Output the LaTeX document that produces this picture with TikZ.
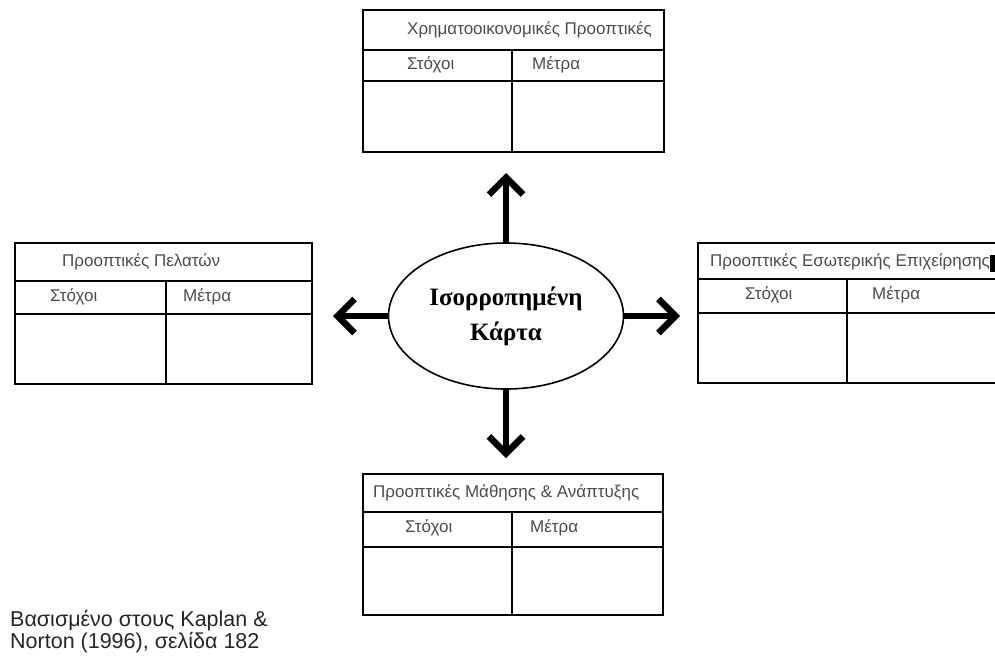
\documentclass[tikz,border=0pt]{standalone}
\usepackage{fontspec}
\setmainfont{Liberation Sans}
\newfontfamily\cardfont{Liberation Serif}
\usetikzlibrary{arrows.meta,shapes.geometric}

\begin{document}
\begin{tikzpicture}[x=1pt,y=-1pt,
  cell/.style={draw, line width=1.3pt},
  label/.style={anchor=west, inner sep=0pt, text=black!70, font=\fontsize{17}{19}\selectfont},
  bigarrow/.style={line width=6.5pt, -{Straight Barb[length=17pt,width=34pt]}}]
\clip (0,0) rectangle (995,657);
% Financial perspective (top)
\draw[cell] (363,10) rectangle (664,152);
\draw[cell] (363,50) -- (664,50);
\draw[cell] (363,81) -- (664,81);
\draw[cell] (512,50) -- (512,152);
\node[label] (finHead) at (407,30) {Χρηματοοικονομικές Προοπτικές};
\node[label] (finGoal) at (407,65) {Στόχοι};
\node[label] (finMeas) at (532,65) {Μέτρα};
% Customer perspective (left)
\draw[cell] (15,243) rectangle (312,384);
\draw[cell] (15,281) -- (312,281);
\draw[cell] (15,314) -- (312,314);
\draw[cell] (166,281) -- (166,384);
\node[label] (cusHead) at (62,262) {Προοπτικές Πελατών};
\node[label] (cusGoal) at (50,297) {Στόχοι};
\node[label] (cusMeas) at (183,297) {Μέτρα};
% Internal business perspective (right)
\draw[cell] (698,243) rectangle (1010,383);
\draw[cell] (698,279) -- (1010,279);
\draw[cell] (698,313) -- (1010,313);
\draw[cell] (847,279) -- (847,383);
\node[label] (intHead) at (710,262) {Προοπτικές Εσωτερικής Επιχείρησης};
\node[label] (intGoal) at (745,295) {Στόχοι};
\node[label] (intMeas) at (872,295) {Μέτρα};
\fill (990,255) rectangle (995,272);
% Learning and growth perspective (bottom)
\draw[cell] (363,474) rectangle (663,615);
\draw[cell] (363,512) -- (663,512);
\draw[cell] (363,547) -- (663,547);
\draw[cell] (512,512) -- (512,615);
\node[label] (lrnHead) at (373,493) {Προοπτικές Μάθησης \& Ανάπτυξης};
\node[label] (lrnGoal) at (405,528) {Στόχοι};
\node[label] (lrnMeas) at (530,528) {Μέτρα};
% balanced scorecard
\node[ellipse, draw, line width=1.6pt, minimum width=235pt, minimum height=146pt,
  align=center, font=\cardfont\bfseries\fontsize{25}{35}\selectfont] (card) at (506,316)
  {Ισορροπημένη\\Κάρτα};
\coordinate (tipUp) at (506,173);
\coordinate (tipLeft) at (333,316);
\coordinate (tipRight) at (680,316);
\coordinate (tipDown) at (506,458);
\draw[bigarrow] (card.north) -- (tipUp);
\draw[bigarrow] (card.west) -- (tipLeft);
\draw[bigarrow] (card.east) -- (tipRight);
\draw[bigarrow] (card.south) -- (tipDown);
% source
\node[anchor=base west, inner sep=0pt, align=left, text=black!85, font=\fontsize{21.5}{20}\selectfont] (source) at (10,648)
  {Βασισμένο στους Kaplan \&\\Norton (1996), σελίδα 182};
\end{tikzpicture}
\end{document}
